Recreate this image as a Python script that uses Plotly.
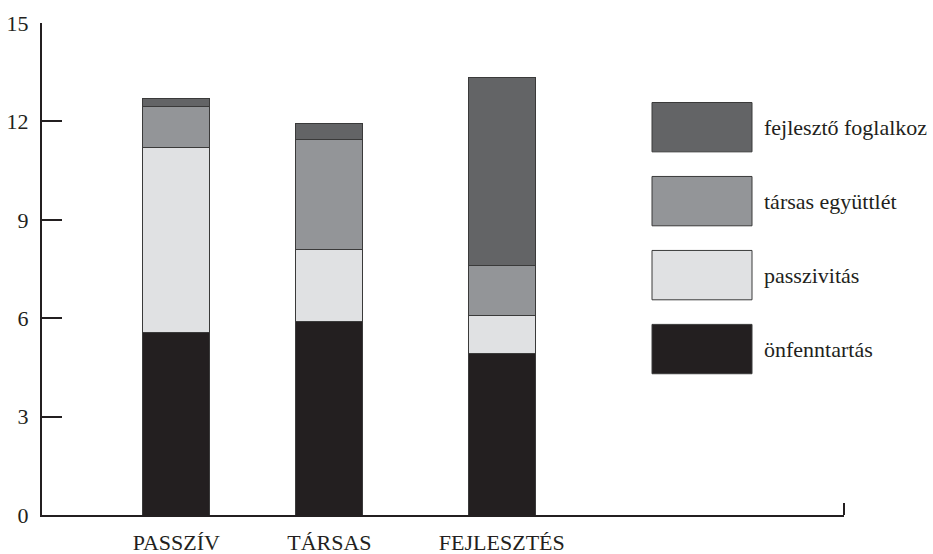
import plotly.graph_objects as go

# Activity groups and time spent (hours) in each type of activity
groups = ["PASSZÍV", "TÁRSAS", "FEJLESZTÉS"]
series_names = ["önfenntartás", "passzivitás", "társas együttlét", "fejlesztő foglalkoz"]
onfenntartas = [5.57, 5.91, 4.91]
passzivitas = [5.64, 2.19, 1.17]
tarsas_egyuttlet = [1.24, 3.34, 1.53]
fejleszto = [0.24, 0.51, 5.73]
y_ticks = [0, 3, 6, 9, 12, 15]

# Layout constants
slot_centers = [1.005, 2.15, 3.44]
bar_width = 0.5
colors = ["#231f20", "#e0e1e3", "#939598", "#636466"]
ink = "#231f20"
serif = "'Liberation Serif', 'Times New Roman', Times, 'DejaVu Serif', serif"
fsize = 22

series_values = [onfenntartas, passzivitas, tarsas_egyuttlet, fejleszto]

fig = go.Figure()
for name, vals, col in zip(series_names, series_values, colors):
    fig.add_trace(go.Bar(
        x=slot_centers, y=vals, name=name, width=bar_width,
        marker=dict(color=col, line=dict(color="#3a3a3a", width=1)),
        showlegend=False,
    ))

# Legend: large swatches with labels to the right of the plot
box_x0, box_x1 = 0.7606, 0.8853
box_h = 0.1003
box_tops = [0.8384, 0.6881, 0.5377, 0.3874]
legend_order = [3, 2, 1, 0]
for top, idx in zip(box_tops, legend_order):
    fig.add_shape(type="rect", xref="paper", yref="paper",
                  x0=box_x0, x1=box_x1, y0=top - box_h, y1=top,
                  fillcolor=colors[idx], line=dict(color="#3a3a3a", width=1))
    fig.add_annotation(xref="paper", yref="paper", x=0.8977, y=top - box_h / 2,
                       text=series_names[idx], showarrow=False,
                       xanchor="left", yanchor="middle",
                       font=dict(family=serif, size=fsize, color=ink))

# Upward end tick at the right end of the x axis
fig.add_shape(type="line", xref="paper", x0=1, x1=1,
              yref="y", ysizemode="pixel", yanchor=0, y0=0, y1=12,
              line=dict(color=ink, width=2))

fig.update_layout(
    barmode="stack",
    width=933, height=554,
    margin=dict(l=42, r=89, t=23, b=39),
    paper_bgcolor="white", plot_bgcolor="white",
    font=dict(family=serif, size=fsize, color=ink),
    xaxis=dict(range=[0, 6], tickvals=slot_centers, ticktext=groups,
               showline=True, linecolor=ink, linewidth=2,
               ticks="", showgrid=False, zeroline=False,
               ticklabelstandoff=7, automargin=False,
               tickfont=dict(family=serif, size=fsize, color=ink)),
    yaxis=dict(range=[0, 15], tickvals=y_ticks,
               showline=True, linecolor=ink, linewidth=2,
               ticks="inside", ticklen=20, tickwidth=2, tickcolor=ink,
               showgrid=False, zeroline=False,
               ticklabelstandoff=7, automargin=False,
               tickfont=dict(family=serif, size=fsize, color=ink)),
)

fig.write_html("out.html")
